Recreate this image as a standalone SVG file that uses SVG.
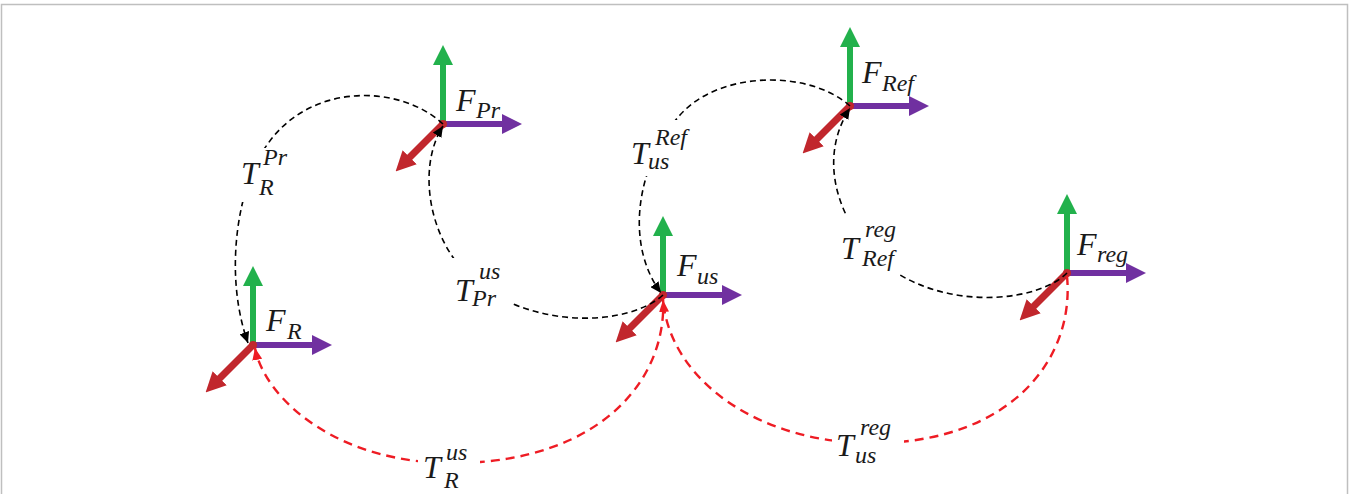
<svg xmlns="http://www.w3.org/2000/svg" width="1351" height="494" viewBox="0 0 1351 494">
<style>
.frame{fill:none;stroke:#bfbfbf;stroke-width:1.5}
.g{stroke:#22b14c;stroke-width:6;fill:none}
.p{stroke:#7030a0;stroke-width:6;fill:none}
.r{stroke:#c1272d;stroke-width:7;fill:none}
.dot{fill:#c1272d}
.bk{stroke:#000;stroke-width:1.6;fill:none;stroke-dasharray:6 4}
.rd{stroke:#ee1c24;stroke-width:2.4;fill:none;stroke-dasharray:9 6}
.mask{fill:#fff}
text{font-family:"Liberation Serif","DejaVu Serif",serif;font-style:italic;fill:#1a1a1a}
.m{font-size:32px}
.s{font-size:24px}
</style>
<defs>
<marker id="hg" markerUnits="userSpaceOnUse" viewBox="0 -10 20 20" refX="1" refY="0" markerWidth="20" markerHeight="20" orient="auto"><path d="M0,-10 L20,0 L0,10 z" fill="#22b14c"/></marker>
<marker id="hp" markerUnits="userSpaceOnUse" viewBox="0 -10 20 20" refX="1" refY="0" markerWidth="20" markerHeight="20" orient="auto"><path d="M0,-10 L20,0 L0,10 z" fill="#7030a0"/></marker>
<marker id="hr" markerUnits="userSpaceOnUse" viewBox="0 -10 20 20" refX="1" refY="0" markerWidth="20" markerHeight="20" orient="auto"><path d="M0,-10 L20,0 L0,10 z" fill="#c1272d"/></marker>
<marker id="ak" markerUnits="userSpaceOnUse" viewBox="0 -5 11 10" refX="11" refY="0" markerWidth="11" markerHeight="10" orient="auto"><path d="M0,-5 L11,0 L0,5 z" fill="#000"/></marker>
<marker id="ar" markerUnits="userSpaceOnUse" viewBox="0 -5 12 10" refX="12" refY="0" markerWidth="12" markerHeight="10" orient="auto"><path d="M0,-5 L12,0 L0,5 z" fill="#ee1c24"/></marker>
</defs>
<rect class="frame" x="1.5" y="4.5" width="1346" height="500"/>

<g id="node-FR">
<line class="g" x1="253" y1="345" x2="253" y2="285" marker-end="url(#hg)"/>
<line class="p" x1="253" y1="345" x2="313" y2="345" marker-end="url(#hp)"/>
<line class="r" x1="253" y1="345" x2="219" y2="379" marker-end="url(#hr)"/>
<circle class="dot" cx="253" cy="345" r="4"/>
<text class="m" x="266" y="331">F</text><text class="s" x="287" y="339">R</text>
</g>

<g id="node-FPr">
<line class="g" x1="443" y1="124" x2="443" y2="64" marker-end="url(#hg)"/>
<line class="p" x1="443" y1="124" x2="503" y2="124" marker-end="url(#hp)"/>
<line class="r" x1="443" y1="124" x2="409" y2="158" marker-end="url(#hr)"/>
<circle class="dot" cx="443" cy="124" r="4"/>
<text class="m" x="456" y="111">F</text><text class="s" x="476" y="118">Pr</text>
</g>

<g id="node-Fus">
<line class="g" x1="663" y1="295" x2="663" y2="235" marker-end="url(#hg)"/>
<line class="p" x1="663" y1="295" x2="723" y2="295" marker-end="url(#hp)"/>
<line class="r" x1="663" y1="295" x2="629" y2="329" marker-end="url(#hr)"/>
<circle class="dot" cx="663" cy="295" r="4"/>
<text class="m" x="677" y="276">F</text><text class="s" x="697" y="284">us</text>
</g>

<g id="node-FRef">
<line class="g" x1="850" y1="106" x2="850" y2="46" marker-end="url(#hg)"/>
<line class="p" x1="850" y1="106" x2="910" y2="106" marker-end="url(#hp)"/>
<line class="r" x1="850" y1="106" x2="816" y2="140" marker-end="url(#hr)"/>
<circle class="dot" cx="850" cy="106" r="4"/>
<text class="m" x="862" y="83">F</text><text class="s" x="882" y="91">Ref</text>
</g>

<g id="node-Freg">
<line class="g" x1="1067" y1="273" x2="1067" y2="213" marker-end="url(#hg)"/>
<line class="p" x1="1067" y1="273" x2="1127" y2="273" marker-end="url(#hp)"/>
<line class="r" x1="1067" y1="273" x2="1033" y2="307" marker-end="url(#hr)"/>
<circle class="dot" cx="1067" cy="273" r="4"/>
<text class="m" x="1077" y="255">F</text><text class="s" x="1097" y="262">reg</text>
</g>

<g id="connectors">
<path id="c-R-Pr" class="bk" d="M443,124 C400,84 310,82 267,145 C240,180 222,270 248,343" marker-end="url(#ak)"/>
<path id="c-Pr-us" class="bk" d="M663,295 C630,325 540,330 480,285 C430,250 415,170 443,126" marker-end="url(#ak)"/>
<path id="c-us-Ref" class="bk" d="M850,106 C810,70 720,70 680,115 C640,160 622,240 661,293" marker-end="url(#ak)"/>
<path id="c-Ref-reg" class="bk" d="M1067,273 C1040,300 960,310 900,275 C850,245 810,170 850,108" marker-end="url(#ak)"/>
<path id="c-R-us" class="rd" d="M663,297 C668,380 600,460 460,463 C340,466 265,400 255,348" marker-end="url(#ar)"/>
<path id="c-us-reg" class="rd" d="M1067,276 C1075,360 1010,440 880,443 C760,446 670,380 663,300" marker-end="url(#ar)"/>

<g id="lbl-TRPr">
<rect class="mask" x="238" y="148" width="56" height="54"/>
<text class="m" x="241" y="184">T</text><text class="s" x="263" y="165">Pr</text><text class="s" x="259" y="195">R</text>
</g>
<g id="lbl-TPrus">
<rect class="mask" x="452" y="258" width="60" height="54"/>
<text class="m" x="455" y="301">T</text><text class="s" x="479" y="279">us</text><text class="s" x="472" y="306">Pr</text>
</g>
<g id="lbl-TusRef">
<rect class="mask" x="628" y="120" width="70" height="56"/>
<text class="m" x="631" y="164">T</text><text class="s" x="655" y="145">Ref</text><text class="s" x="648" y="169">us</text>
</g>
<g id="lbl-TRefreg">
<rect class="mask" x="836" y="216" width="74" height="58"/>
<text class="m" x="841" y="259">T</text><text class="s" x="865" y="237">reg</text><text class="s" x="862" y="266">Ref</text>
</g>
<g id="lbl-TRus">
<rect class="mask" x="418" y="430" width="62" height="64"/>
<text class="m" x="423" y="478">T</text><text class="s" x="446" y="460">us</text><text class="s" x="444" y="488">R</text>
</g>
<g id="lbl-Tusreg">
<rect class="mask" x="832" y="414" width="72" height="54"/>
<text class="m" x="836" y="456">T</text><text class="s" x="860" y="435">reg</text><text class="s" x="855" y="463">us</text>
</g>
</g>
</svg>
